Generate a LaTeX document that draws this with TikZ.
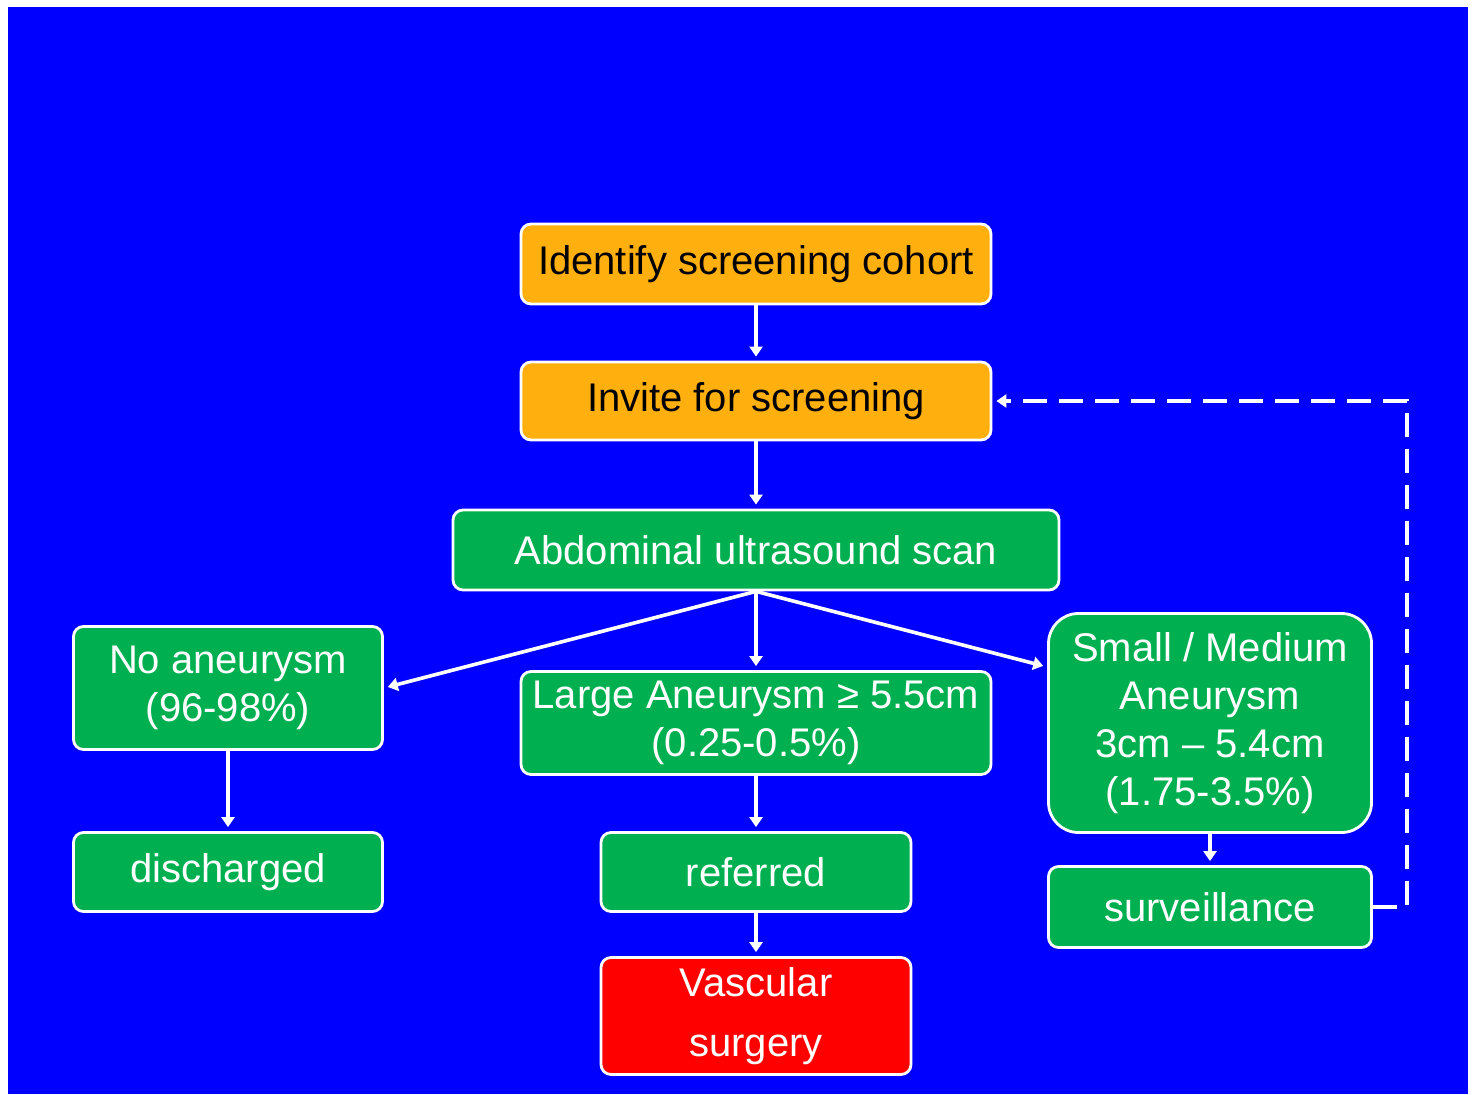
\documentclass[tikz,border=0pt]{standalone}
\usepackage{fontspec}
\setmainfont{Liberation Sans}
\usetikzlibrary{arrows.meta,positioning}
\definecolor{slideblue}{RGB}{0,0,255}
\definecolor{boxorange}{RGB}{255,176,15}
\definecolor{boxgreen}{RGB}{0,176,80}
\definecolor{boxred}{RGB}{255,0,0}

\begin{document}
\begin{tikzpicture}[x=0.5pt, y=-0.5pt,
        base/.style = {rectangle, draw=white, line width=1.4pt, rounded corners=5pt, align=center, inner sep=2pt, font=\fontsize{20}{24}\selectfont},
        invbox/.style = {base, fill=boxorange, text=black},
        scanbox/.style = {base, fill=boxgreen, text=white},
        surgbox/.style = {base, fill=boxred, text=white},
        arr/.style = {-{Triangle[width=6.5pt,length=5pt]}, line width=1.8pt, draw=white, shorten >=2pt},
        fb/.style = {arr, dash pattern=on 12pt off 6pt}
    ]
        % Slide background
        \fill[white] (0,0) rectangle (1476,1095);
        \fill[slideblue] (8,7) rectangle (1468,1094);

        % Top: invitation steps
        \node[invbox, minimum width=235pt, minimum height=40pt] (cohort) at (756,264) {Identify screening cohort};
        \node[invbox, minimum width=235pt, minimum height=39pt] (invite) at (756,401) {Invite for screening};
        \node[scanbox, minimum width=303pt, minimum height=40pt] (scan) at (756,550) {Abdominal ultrasound scan};

        % Middle: scan outcomes
        \node[scanbox, minimum width=154.5pt, minimum height=61.5pt] (none) at (228,688) {No aneurysm\\(96-98\%)};
        \node[scanbox, minimum width=235pt, minimum height=51.5pt] (large) at (756,723) {Large Aneurysm ≥ 5.5cm\\(0.25-0.5\%)};
        \node[scanbox, minimum width=161.5pt, minimum height=109.5pt, rounded corners=15pt] (small) at (1210,723) {Small / Medium\\Aneurysm\\3cm – 5.4cm\\(1.75-3.5\%)};

        % Bottom: follow-up
        \node[scanbox, minimum width=154.5pt, minimum height=39.5pt] (disch) at (228,872) {discharged};
        \node[scanbox, minimum width=155pt, minimum height=39.5pt] (refer) at (756,872) {referred};
        \node[scanbox, minimum width=161.5pt, minimum height=40.5pt] (surv) at (1210,907) {surveillance};
        \node[surgbox, minimum width=155pt, minimum height=58.5pt] (vasc) at (756,1016) {Vascular\\[6pt]surgery};

        % Forward flow
        \draw[arr] (cohort) -- (invite);
        \draw[arr] (invite) -- (scan);
        \draw[arr] (scan.south) -- (none.east);
        \draw[arr] (scan.south) -- (large.north);
        \draw[arr] (scan.south) -- (small.161);
        \draw[arr] (none) -- (disch);
        \draw[arr] (large) -- (refer);
        \draw[arr] (refer) -- (vasc);
        \draw[arr] (small) -- (surv);

        % Re-invite loop
        \draw[fb] (surv.east) -- ++(34,0) |- (invite.east);

    \end{tikzpicture}
\end{document}
